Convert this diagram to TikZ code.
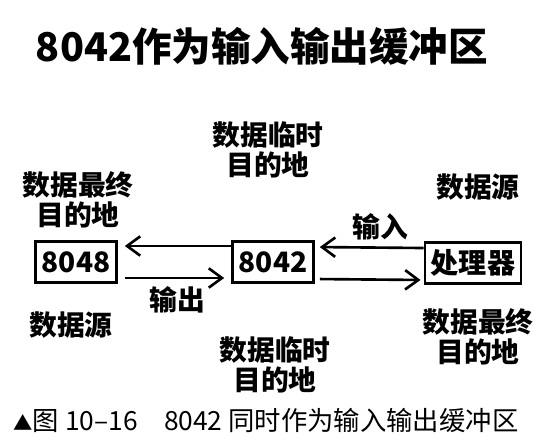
\documentclass[tikz,border=0pt]{standalone}
\usepackage{fontspec}
\newfontfamily\cjk{Noto Sans CJK SC}
\usetikzlibrary{arrows.meta}

\begin{document}
\begin{tikzpicture}[x=0.02cm,y=-0.02cm,>={Straight Barb[length=7.5pt,width=11pt]},
    box/.style={draw,line width=1.5pt,minimum height=0.82cm,minimum width=1.62cm,
        inner xsep=0.12cm,font=\cjk\bfseries\fontsize{16}{18}\selectfont},
    lbl/.style={align=center,font=\cjk\bfseries\fontsize{15.8}{17}\selectfont},
    link/.style={->,line width=1.5pt}]
    \useasboundingbox (0,0) rectangle (547,447);
    % title
    \node [font=\cjk\bfseries\fontsize{22.5}{24}\selectfont] (title) at (262,46) {8042作为输入输出缓冲区};
    % the three boxes
    \node [box] (p8048) at (76,262) {8048};
    \node [box] (p8042) at (273,262) {8042};
    \node [box] (cpu) at (473,263) {处理器};
    % arrows
    \draw [link,shorten >=0.14cm] ([yshift=0.32cm]p8042.west) -- ([yshift=0.32cm]p8048.east);
    \draw [link,shorten <=0.14cm,shorten >=0.14cm] ([yshift=-0.32cm]p8048.east) -- ([yshift=-0.32cm]p8042.west);
    \draw [link,shorten >=0.1cm] ([yshift=0.3cm]cpu.west) -- ([yshift=0.3cm]p8042.east);
    \draw [link,shorten <=0.1cm,shorten >=0.06cm] ([yshift=-0.34cm]p8042.east) -- ([yshift=-0.34cm]cpu.west);
    % labels
    \node [lbl] (dst1) at (78,200) {数据最终\\目的地};
    \node [lbl] (tmp1) at (268,150) {数据临时\\目的地};
    \node [lbl] (src1) at (478,187) {数据源};
    \node [lbl] (in) at (380,227) {输入};
    \node [lbl] (out) at (177,300) {输出};
    \node [lbl] (src2) at (71,325) {数据源};
    \node [lbl] (dst2) at (478,337) {数据最终\\目的地};
    \node [lbl] (tmp2) at (275,365) {数据临时\\目的地};
    % caption
    \node [font=\cjk\fontsize{15}{17}\selectfont] (cap) at (266,420)
        {{\fontsize{11}{12}\selectfont▲}图 10–16\quad 8042 同时作为输入输出缓冲区};
\end{tikzpicture}
\end{document}
